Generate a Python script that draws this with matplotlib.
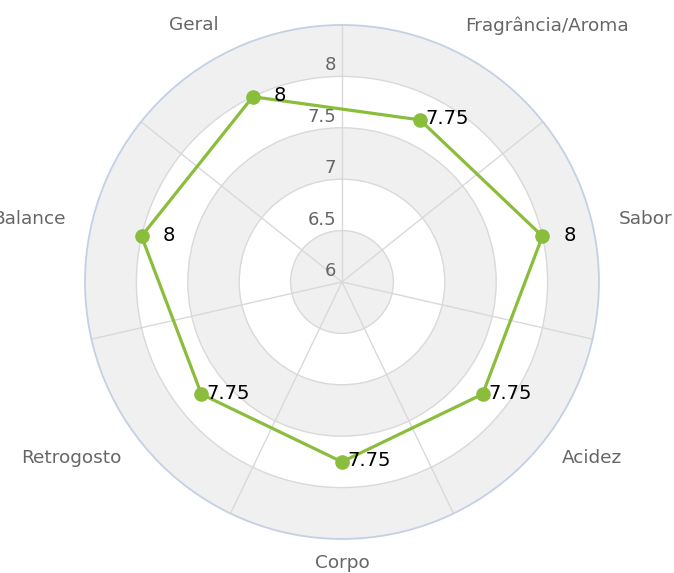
import numpy as np
import matplotlib.pyplot as plt

categorias = ['Fragrância/Aroma', 'Sabor', 'Acidez', 'Corpo', 'Retrogosto', 'Balance', 'Geral']
notas = [7.75, 8, 7.75, 7.75, 7.75, 8, 8]
ticks = [6, 6.5, 7, 7.5, 8]
rmin, rmax = 6, 8.5

verde = '#8bbd3d'
cinza_txt = '#666666'

n = len(categorias)
paso = 2*np.pi/n
ang = np.arange(n)*paso + paso/2

fig = plt.figure(figsize=(6.74, 5.73), dpi=100)
ax = fig.add_axes([0.5074-0.3813, 0.5079-0.4485, 0.7626, 0.897], projection='polar')
ax.set_theta_zero_location('N')
ax.set_theta_direction(-1)
ax.set_axisbelow(True)

# bandas alternadas
for r0 in ticks[::2]:
    ax.bar(0, 0.5, width=2*np.pi, bottom=r0, color='#f0f0f0', edgecolor='none', zorder=0.1)

ax.set_xticks(np.arange(n)*paso)
ax.set_xticklabels([])
ax.set_yticks(ticks[1:])
ax.set_yticklabels([])
ax.grid(color='#d9d9d9', linewidth=1.0)
ax.spines['polar'].set_color('#c4d0e4')
ax.spines['polar'].set_linewidth(1.3)
ax.tick_params(length=0)

for t in ticks:
    ax.annotate(f'{t:g}', xy=(0, t), xytext=(-6, 11), textcoords='offset pixels',
                ha='right', va='center', fontsize=13, color=cinza_txt)

# linha fechada
ax.plot(np.append(ang, ang[0]), notas + notas[:1], color=verde, lw=2.3, zorder=3)
ax.plot(ang, notas, 'o', color=verde, ms=9.5, zorder=4)

for a, v in zip(ang, notas):
    ax.annotate(f'{v:g}', xy=(a, v), xytext=(27, 1), textcoords='offset pixels',
                ha='center', va='center', fontsize=14, color='black', zorder=5)

for a, c in zip(ang, categorias):
    s, co = np.sin(a), np.cos(a)
    ha = 'left' if s > 0.1 else ('right' if s < -0.1 else 'center')
    d = 26 + 2*co
    ax.annotate(c, xy=(a, rmax), xytext=(d*s, d*co), textcoords='offset pixels',
                ha=ha, va='center', fontsize=13.3, color=cinza_txt, annotation_clip=False)

ax.set_ylim(rmin, rmax)
plt.savefig('out.png', dpi=100)
